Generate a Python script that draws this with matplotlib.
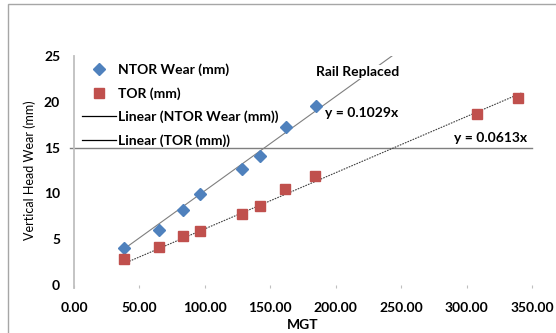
import matplotlib.pyplot as plt
from matplotlib.lines import Line2D
from matplotlib.patches import Rectangle

# data
mgt = [38.3, 65.0, 83.4, 96.4, 128.5, 142.3, 162.2, 185.2]
ntor_wear = [4.0, 6.0, 8.2, 9.9, 12.7, 14.1, 17.2, 19.5]

tor_mgt = [38.3, 65.0, 83.4, 96.4, 128.5, 142.3, 161.4, 184.4, 308.3, 339.0]
tor_wear = [2.8, 4.1, 5.3, 5.9, 7.75, 8.6, 10.5, 11.9, 18.7, 20.4]

ntor_slope = 0.1029
tor_slope = 0.0613
ntor_fit_range = [38.3, 245.0]   # trendline drawn with forward forecast
tor_fit_range = [38.3, 342.0]
limit_wear = 15

blue = '#4F81BD'
red = '#C0504D'
font = 'Lato'
fs = 10

plt.rcParams['font.family'] = [font, 'DejaVu Sans']

fig = plt.figure(figsize=(5.56, 3.33), dpi=100)
ax = fig.add_axes([74/556, 1-285/333, (532-74)/556, (285-56)/333])

# outer chart border (clipped by the image edges)
fig.patches.append(Rectangle((8/556, -0.2), 1.2, 1.2 - 4/333,
                             transform=fig.transFigure, fill=False,
                             edgecolor='#A6A6A6', lw=1.0))

# trendlines through origin
ax.plot(ntor_fit_range, [ntor_slope*x for x in ntor_fit_range],
        color='#7F7F7F', lw=0.8, zorder=2)
ax.plot(tor_fit_range, [tor_slope*x for x in tor_fit_range],
        color='#404040', lw=0.8, linestyle=(0, (1.5, 1)), zorder=2)

# wear limit line
ax.plot([-3, 350], [limit_wear, limit_wear], color='#7F7F7F', lw=1.0,
        clip_on=False, zorder=1)

ax.plot(mgt, ntor_wear, linestyle='none', marker='D', markersize=6,
        color=blue, zorder=3)
ax.plot(tor_mgt, tor_wear, linestyle='none', marker='s', markersize=7.5,
        color=red, zorder=3)

ax.set_xlim(0, 350)
ax.set_ylim(0, 25)
ax.set_xticks(range(0, 351, 50))
ax.set_xticklabels(['%.2f' % t for t in range(0, 351, 50)])
ax.set_yticks(range(0, 26, 5))

for s in ['top', 'right', 'bottom']:
    ax.spines[s].set_visible(False)
ax.spines['left'].set_color('#BFBFBF')
ax.spines['left'].set_linewidth(1.3)
ax.spines['left'].set_bounds(-0.35, 25)

ax.tick_params(axis='x', length=2, width=0.8, color='#BFBFBF', pad=10,
               labelsize=fs)
ax.tick_params(axis='y', length=0, pad=10, labelsize=fs)
for lbl in ax.get_xticklabels() + ax.get_yticklabels():
    lbl.set_fontweight('bold')

ax.set_xlabel('MGT', fontsize=fs, fontweight='bold', labelpad=4)
ax.set_ylabel('Vertical Head Wear (mm)', fontsize=9, labelpad=6)

ax.text(216.5, 23.25, 'Rail Replaced', fontsize=fs, fontweight='bold',
        ha='center', va='center', zorder=4,
        bbox=dict(facecolor='white', edgecolor='none', pad=1))
ax.text(220, 18.8, 'y = 0.1029x', fontsize=fs, fontweight='bold',
        ha='center', va='center', zorder=4)
ax.text(318, 16.0, 'y = 0.0613x', fontsize=fs, fontweight='bold',
        ha='center', va='center', zorder=4)

handles = [
    Line2D([], [], linestyle='none', marker='D', markersize=6, color=blue),
    Line2D([], [], linestyle='none', marker='s', markersize=7.5, color=red),
    Line2D([], [], color='black', lw=0.9),
    Line2D([], [], color='black', lw=0.9),
]
labels = ['NTOR Wear (mm)', 'TOR (mm)', 'Linear (NTOR Wear (mm))',
          'Linear (TOR (mm))']
leg = ax.legend(handles, labels, loc='upper left',
                bbox_to_anchor=(0.018, 0.968), frameon=False,
                prop={'family': font, 'weight': 'bold', 'size': fs},
                handlelength=2.4, handletextpad=0.15, labelspacing=0.78,
                borderpad=0, borderaxespad=0)

fig.savefig('out.png', dpi=100)
